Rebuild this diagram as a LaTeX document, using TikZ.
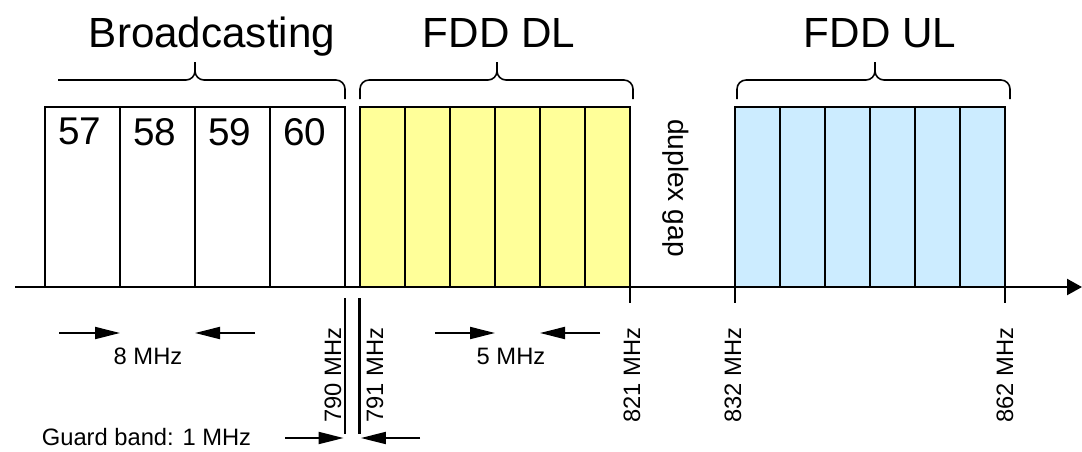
\documentclass[tikz,border=0pt]{standalone}
\usepackage{fontspec}
\setmainfont{Liberation Sans}
\usetikzlibrary{arrows.meta}
\definecolor{dlyellow}{HTML}{FFFF99}
\definecolor{ulblue}{HTML}{CCECFF}

\begin{document}
\begin{tikzpicture}[
        chan/.style={draw, line width=1.1pt, minimum height=3.6cm, inner sep=0pt, outer sep=0pt},
        bcchan/.style={chan, minimum width=1.5cm},
        dlchan/.style={chan, fill=dlyellow, minimum width=0.9cm},
        ulchan/.style={chan, fill=ulblue, minimum width=0.9cm},
        num/.style={anchor=north west, inner sep=0pt, xshift=0.26cm, yshift=-0.22cm, font=\fontsize{22}{26}\selectfont},
        title/.style={anchor=base, font=\fontsize{24}{28}\selectfont},
        lbl/.style={font=\fontsize{13.5}{16}\selectfont},
        freq/.style={rotate=90, font=\fontsize{13.5}{16}\selectfont},
        brc/.style={line width=0.9pt, rounded corners=0.18cm},
        dim/.style={line width=1.1pt, -{Triangle[length=0.5cm, width=0.24cm]}},
        guard/.style={line width=1.6pt},
        freqtick/.style={line width=1.6pt},
        axis/.style={line width=1.3pt, -{Triangle[length=0.3cm, width=0.32cm]}}
    ]

        \useasboundingbox (0, -3.28) rectangle (21.64, 5.74);

        % broadcasting channels
        \node (b-1) at (1.65, 1.8) [bcchan] {};
        \node (b-2) at (3.15, 1.8) [bcchan] {};
        \node (b-3) at (4.65, 1.8) [bcchan] {};
        \node (b-4) at (6.15, 1.8) [bcchan] {};

        \node (n-1) at (b-1.north west) [num] {57};
        \node (n-2) at (b-2.north west) [num] {58};
        \node (n-3) at (b-3.north west) [num] {59};
        \node (n-4) at (b-4.north west) [num] {60};

        % downlink channels
        \node (dl-1) at (7.65, 1.8) [dlchan] {};
        \node (dl-2) at (8.55, 1.8) [dlchan] {};
        \node (dl-3) at (9.45, 1.8) [dlchan] {};
        \node (dl-4) at (10.35, 1.8) [dlchan] {};
        \node (dl-5) at (11.25, 1.8) [dlchan] {};
        \node (dl-6) at (12.15, 1.8) [dlchan] {};

        % uplink channels
        \node (ul-1) at (15.15, 1.8) [ulchan] {};
        \node (ul-2) at (16.05, 1.8) [ulchan] {};
        \node (ul-3) at (16.95, 1.8) [ulchan] {};
        \node (ul-4) at (17.85, 1.8) [ulchan] {};
        \node (ul-5) at (18.75, 1.8) [ulchan] {};
        \node (ul-6) at (19.65, 1.8) [ulchan] {};

        % titles and braces
        \node (t-1) at (4.24, 4.8) [title] {Broadcasting};
        \node (t-2) at (9.98, 4.8) [title] {FDD DL};
        \node (t-3) at (17.6, 4.8) [title] {FDD UL};

        \draw[brc] (1.16, 4.14) -- (3.9, 4.14) -- (3.9, 4.5);
        \draw[brc] (6.9, 3.76) -- (6.9, 4.14) -- (3.9, 4.14) -- (3.9, 4.5);

        \draw[brc] (7.2, 3.76) -- (7.2, 4.14) -- (9.94, 4.14) -- (9.94, 4.5);
        \draw[brc] (12.66, 3.76) -- (12.66, 4.14) -- (9.94, 4.14) -- (9.94, 4.5);

        \draw[brc] (14.74, 3.76) -- (14.74, 4.14) -- (17.5, 4.14) -- (17.5, 4.5);
        \draw[brc] (20.2, 3.76) -- (20.2, 4.14) -- (17.5, 4.14) -- (17.5, 4.5);

        \node (gap) at (13.52, 1.98) [rotate=-90, font=\fontsize{16}{19}\selectfont] {duplex gap};

        % frequency axis
        \coordinate (ax-start) at (0.3, 0);
        \coordinate (ax-end) at (21.64, 0);
        \draw[axis] (ax-start) -- (ax-end);

        \draw[freqtick] (dl-6.south east) -- ++(0, -0.32);
        \draw[freqtick] (ul-1.south west) -- ++(0, -0.32);
        \draw[freqtick] (ul-6.south east) -- ++(0, -0.32);

        \node (f-790) at (6.66, -1.76) [freq] {790 MHz};
        \node (f-791) at (7.5, -1.76) [freq] {791 MHz};
        \node (f-821) at (12.64, -1.76) [freq] {821 MHz};
        \node (f-832) at (14.66, -1.76) [freq] {832 MHz};
        \node (f-862) at (20.1, -1.76) [freq] {862 MHz};

        % channel widths
        \coordinate (d8-l) at (1.18, -0.92);
        \coordinate (d8-r) at (5.1, -0.92);
        \draw[dim] (d8-l) -- (d8-l -| b-1.south east);
        \draw[dim] (d8-r) -- (d8-r -| b-3.south west);
        \node (w-8) at (2.96, -1.38) [lbl] {8 MHz};

        \coordinate (d5-l) at (8.7, -0.92);
        \coordinate (d5-r) at (12.0, -0.92);
        \draw[dim] (d5-l) -- (d5-l -| dl-3.south east);
        \draw[dim] (d5-r) -- (d5-r -| dl-5.south west);
        \node (w-5) at (10.22, -1.38) [lbl] {5 MHz};

        % guard band
        \coordinate (g-1) at (6.9, -0.22);
        \coordinate (g-2) at (7.19, -0.22);
        \draw[guard] (g-1) -- ++(0, -2.72);
        \draw[guard] (g-2) -- ++(0, -2.72);

        \coordinate (ga-l) at (5.7, -3.02);
        \coordinate (ga-r) at (8.4, -3.02);
        \draw[dim, shorten >=0.8pt] (ga-l) -- (ga-l -| g-1);
        \draw[dim, shorten >=0.8pt] (ga-r) -- (ga-r -| g-2);
        \node (guard) at (2.93, -3.01) [lbl] {Guard band: 1 MHz};

    \end{tikzpicture}
\end{document}
